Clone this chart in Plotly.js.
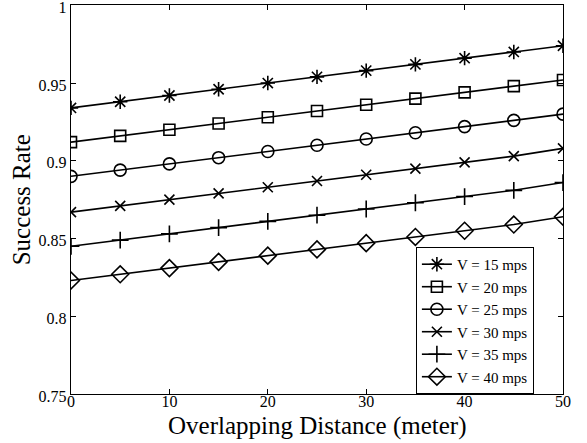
<!DOCTYPE html>
<html>
<head>
<meta charset="utf-8">
<script src="https://cdn.plot.ly/plotly-3.0.1.min.js"></script>
<style>html,body{margin:0;padding:0;background:#fff}#plot{width:587px;height:443px}</style>
</head>
<body>
<div id="plot"></div>
<script>
var distance = [0, 5, 10, 15, 20, 25, 30, 35, 40, 45, 50];
var v15 = [0.934, 0.938, 0.942, 0.946, 0.950, 0.954, 0.958, 0.962, 0.966, 0.970, 0.974];
var v20 = [0.912, 0.916, 0.920, 0.924, 0.928, 0.932, 0.936, 0.940, 0.944, 0.948, 0.952];
var v25 = [0.890, 0.894, 0.898, 0.902, 0.906, 0.910, 0.914, 0.918, 0.922, 0.926, 0.930];
var v30 = [0.867, 0.871, 0.875, 0.879, 0.883, 0.887, 0.891, 0.895, 0.899, 0.903, 0.908];
var v35 = [0.845, 0.849, 0.853, 0.857, 0.861, 0.865, 0.869, 0.873, 0.877, 0.881, 0.886];
var v40 = [0.823, 0.827, 0.831, 0.835, 0.839, 0.843, 0.847, 0.851, 0.855, 0.859, 0.864];
var seriesNames = ["V = 15 mps", "V = 20 mps", "V = 25 mps", "V = 30 mps", "V = 35 mps", "V = 40 mps"];
var yTickVals = [0.75, 0.8, 0.85, 0.9, 0.95, 1];
var yTickText = ["0.75", "0.8", "0.85", "0.9", "0.95", "1"];
var xTickVals = [0, 10, 20, 30, 40, 50];
var xTitle = "Overlapping Distance (meter)";
var yTitle = "Success Rate";

var allSeries = [v15, v20, v25, v30, v35, v40];
var symbols = ["asterisk-open", "square-open", "circle-open", "x-thin-open", "cross-thin-open", "diamond-open"];
var sizes = [12, 11, 12, 10, 12, 13];

var traces = allSeries.map(function (ys, i) {
  return {
    x: distance, y: ys, name: seriesNames[i], type: "scatter", mode: "lines+markers",
    line: {color: "#000", width: 1.6},
    marker: {symbol: symbols[i], size: sizes[i], color: "#000", line: {color: "#000", width: 1.6}}
  };
});

var font = "'Liberation Serif', 'Times New Roman', serif";
var layout = {
  width: 587, height: 443,
  margin: {l: 71, r: 24, t: 5, b: 49},
  paper_bgcolor: "#fff", plot_bgcolor: "#fff",
  showlegend: true,
  font: {family: font, color: "#000"},
  xaxis: {
    range: [0, 50], tickvals: xTickVals, ticks: "inside", ticklen: 5, tickcolor: "#000",
    showline: true, linecolor: "#000", linewidth: 1.2, mirror: "ticks", showgrid: false, zeroline: false,
    tickfont: {family: font, size: 16, color: "#000"}, ticklabelstandoff: -7, ticklabeloverflow: "allow"
  },
  yaxis: {
    range: [0.75, 1.0002], tickvals: yTickVals, ticktext: yTickText, ticks: "inside", ticklen: 5, tickcolor: "#000",
    showline: true, linecolor: "#000", linewidth: 1.2, mirror: "ticks", showgrid: false, zeroline: false,
    tickfont: {family: font, size: 16, color: "#000"}, ticklabeloverflow: "allow", ticklabelshift: 2
  },
  annotations: [
    {text: xTitle, xref: "paper", yref: "paper", x: 0.5, y: -0.081, xanchor: "center", yanchor: "middle",
     showarrow: false, font: {family: font, size: 25, color: "#000"}},
    {text: yTitle, xref: "paper", yref: "paper", x: -0.1, y: 0.5, xanchor: "center", yanchor: "middle",
     textangle: -90, showarrow: false, font: {family: font, size: 25, color: "#000"}}
  ],
  legend: {
    x: 0.701, y: 0.378, xanchor: "left", yanchor: "top",
    bgcolor: "#fff", bordercolor: "#000", borderwidth: 1,
    font: {family: font, size: 15, color: "#000"},
    tracegroupgap: 0, itemwidth: 30
  }
};
Plotly.newPlot("plot", traces, layout, {displayModeBar: false, staticPlot: true});
</script>
</body>
</html>
